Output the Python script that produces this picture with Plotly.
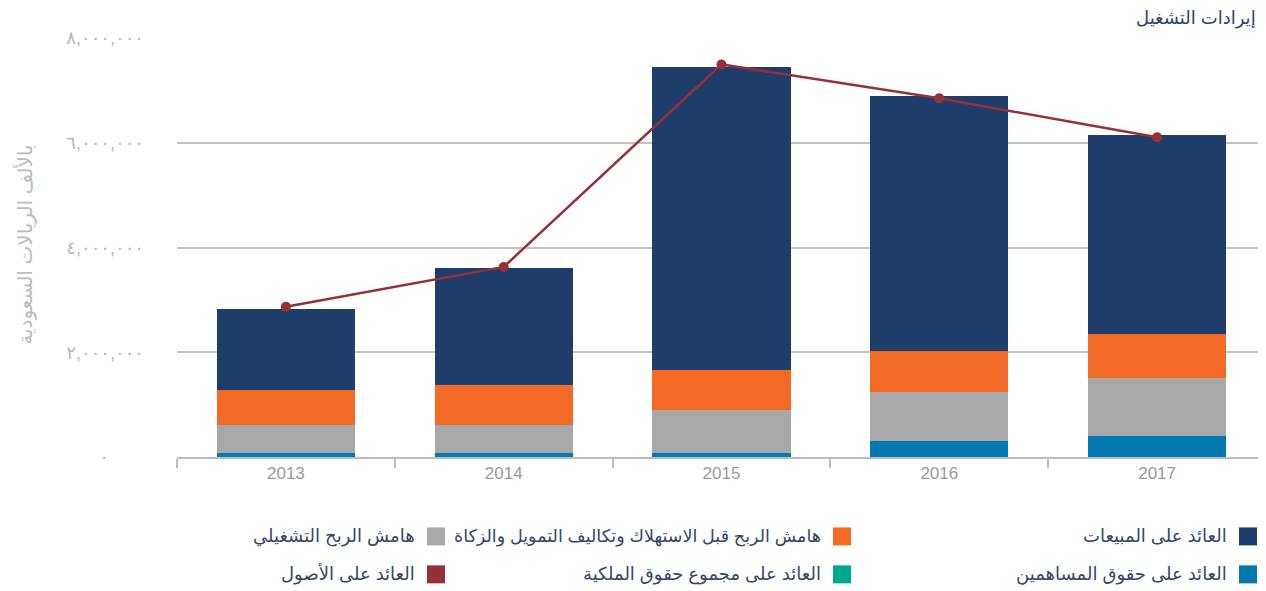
import plotly.graph_objects as go

years = ["2013", "2014", "2015", "2016", "2017"]

# stacked segments (thousand SAR), bottom to top
roe_shareholders = [86000, 86000, 67000, 314000, 410000]      # العائد على حقوق المساهمين
roe_total = [0, 0, 0, 0, 0]                                   # العائد على مجموع حقوق الملكية
operating_margin = [533000, 533000, 838000, 934000, 1104000]  # هامش الربح التشغيلي
ebitda_margin = [667000, 762000, 762000, 781000, 838000]      # هامش الربح قبل ...
return_on_sales = [1543000, 2229000, 5771000, 4857000, 3791000]  # العائد على المبيعات
return_on_assets = [2867000, 3629000, 7495000, 6848000, 6105000]  # العائد على الأصول

ytick_vals = [0, 2000000, 4000000, 6000000, 8000000]
ytick_text = ["٠" + "\u00a0" * 7, "٢,٠٠٠,٠٠٠", "٤,٠٠٠,٠٠٠", "٦,٠٠٠,٠٠٠", "٨,٠٠٠,٠٠٠"]

C_NAVY = "#1e3d6b"
C_ORANGE = "#f26a24"
C_GRAY = "#a8a8a8"
C_BLUE = "#0079b0"
C_TEAL = "#00a88f"
C_RED = "#943036"

names = {
    "sales": "العائد على المبيعات",
    "ebitda": "هامش الربح قبل الاستهلاك وتكاليف التمويل والزكاة",
    "op": "هامش الربح التشغيلي",
    "rse": "العائد على حقوق المساهمين",
    "rte": "العائد على مجموع حقوق الملكية",
    "roa": "العائد على الأصول",
}

FONT = "Liberation Sans, DejaVu Sans, sans-serif"

fig = go.Figure()
for vals, col, key in [
    (roe_shareholders, C_BLUE, "rse"),
    (roe_total, C_TEAL, "rte"),
    (operating_margin, C_GRAY, "op"),
    (ebitda_margin, C_ORANGE, "ebitda"),
    (return_on_sales, C_NAVY, "sales"),
]:
    fig.add_trace(go.Bar(x=years, y=vals, name=names[key], marker=dict(color=col, line=dict(width=0)),
                         showlegend=False))

fig.add_trace(go.Scatter(x=years, y=return_on_assets, name=names["roa"], mode="lines+markers",
                         line=dict(color=C_RED, width=2.5), marker=dict(color=C_RED, size=10),
                         showlegend=False))

# page body has an 8px margin, so the figure is offset by 8px
OFF = 8
W, H = 1266 - OFF, 591 - OFF
L, R, T = 177 - OFF, 0, 38 - OFF
ph = 419.5
B = H - T - ph
pw = W - L - R


def px_x(px):
    return (px - OFF - L) / pw


def px_y(py):
    return (T + ph - (py - OFF)) / ph


fig.update_layout(
    width=W, height=H,
    margin=dict(l=L, r=R, t=T, b=B, pad=0),
    barmode="stack",
    bargap=0.366,
    plot_bgcolor="white",
    paper_bgcolor="white",
    font=dict(family=FONT),
    xaxis=dict(
        showgrid=False, showline=True, linecolor="#bcbcbc", linewidth=2,
        ticks="outside", tickson="boundaries", ticklen=9, tickcolor="#bcbcbc", tickwidth=2,
        tickfont=dict(size=17, color="#9a9a9a", family=FONT),
        fixedrange=True,
    ),
    yaxis=dict(
        range=[0, 8000000], tickvals=ytick_vals, ticktext=ytick_text,
        showgrid=True, gridcolor="#c4c4c4", gridwidth=1.5, zeroline=False,
        showline=False, ticks="", ticklabelstandoff=32,
        tickfont=dict(size=18, color="#b8b8b8", family=FONT),
    ),
)

annotations = [
    dict(text="إيرادات التشغيل", x=px_x(1258), y=px_y(18), xref="paper", yref="paper",
         xanchor="right", yanchor="middle", showarrow=False,
         font=dict(size=18, color="#2c4370", family=FONT)),
    dict(text="بالألف الريالات السعودية", x=px_x(25), y=px_y(245), xref="paper", yref="paper",
         xanchor="center", yanchor="middle", showarrow=False, textangle=-90,
         font=dict(size=20, color="#bcbcbc", family=FONT)),
]

legend_items = [
    (1239, 537, C_NAVY, names["sales"], 18),
    (1239, 575, C_BLUE, names["rse"], 18),
    (833, 537, C_ORANGE, names["ebitda"], 17.5),
    (833, 575, C_TEAL, names["rte"], 18),
    (427, 537, C_GRAY, names["op"], 18),
    (427, 575, C_RED, names["roa"], 18),
]
shapes = []
for sx, sy, col, txt, fs in legend_items:
    shapes.append(dict(type="rect", xref="paper", yref="paper",
                       x0=px_x(sx), x1=px_x(sx + 18), y0=px_y(sy - 9), y1=px_y(sy + 9),
                       fillcolor=col, line=dict(width=0)))
    annotations.append(dict(text=txt, x=px_x(sx - 10), y=px_y(sy), xref="paper", yref="paper",
                            xanchor="right", yanchor="middle", showarrow=False,
                            font=dict(size=fs, color="#34466b", family=FONT)))

fig.update_layout(annotations=annotations, shapes=shapes)

fig.write_html("out.html")
